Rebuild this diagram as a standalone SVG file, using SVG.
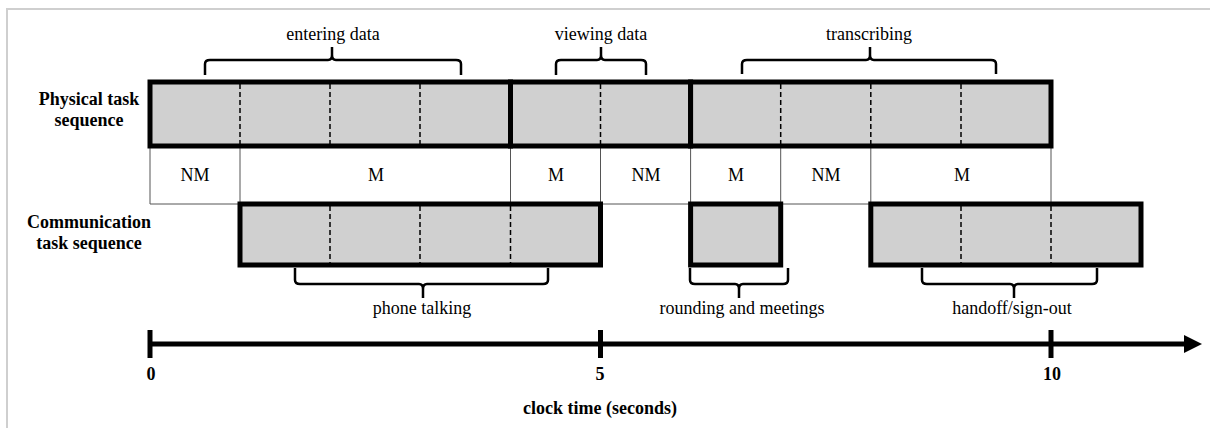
<svg xmlns="http://www.w3.org/2000/svg" width="1210" height="428" viewBox="0 0 1210 428">
<style>
.bar{fill:#d0d0d0;stroke:#000;stroke-width:5}
.dash{stroke:#000;stroke-width:1.5;stroke-dasharray:5,3;fill:none}
.thin{stroke:#555;stroke-width:1;fill:none}
.brace{stroke:#000;stroke-width:2.5;fill:none;stroke-linejoin:round}
.t{font-family:"Liberation Serif","Times New Roman",serif;font-size:18px;fill:#000;text-anchor:middle}
.b{font-weight:bold}
.axis{stroke:#000;stroke-width:5}
</style>
<rect x="0" y="0" width="1210" height="428" fill="#fff"/>
<path d="M7,428 V9 H1210" fill="none" stroke="#cfcfcf" stroke-width="2"/>

<g id="labels-left">
<text class="t b" x="89" y="105">Physical task</text>
<text class="t b" x="89" y="126">sequence</text>
<text class="t b" x="89" y="228">Communication</text>
<text class="t b" x="89" y="249">task sequence</text>
</g>

<g id="mnm-row">
<path class="thin" d="M150,146 V204 H1051 V146 M240,146 V204 M510.5,146 V204 M600.5,146 V204 M690.6,146 V204 M780.7,146 V204 M870.8,146 V204"/>
<text class="t" x="195" y="181">NM</text>
<text class="t" x="376" y="181">M</text>
<text class="t" x="556" y="181">M</text>
<text class="t" x="646" y="181">NM</text>
<text class="t" x="736" y="181">M</text>
<text class="t" x="826" y="181">NM</text>
<text class="t" x="962" y="181">M</text>
</g>

<g id="physical-entering">
<rect class="bar" x="150" y="82" width="360.5" height="64"/>
<path class="dash" d="M240,84 V144 M330,84 V144 M420,84 V144"/>
</g>
<g id="physical-viewing">
<rect class="bar" x="510.5" y="82" width="180.1" height="64"/>
<path class="dash" d="M600.5,84 V144"/>
</g>
<g id="physical-transcribing">
<rect class="bar" x="690.6" y="82" width="360.4" height="64"/>
<path class="dash" d="M780.7,84 V144 M870.8,84 V144 M961,84 V144"/>
</g>

<g id="comm-phone">
<rect class="bar" x="240" y="204" width="360.5" height="61"/>
<path class="dash" d="M330,206 V263 M420,206 V263 M510.5,206 V263"/>
</g>
<g id="comm-rounding">
<rect class="bar" x="690.6" y="204" width="90.1" height="61"/>
</g>
<g id="comm-handoff">
<rect class="bar" x="870.8" y="204" width="270.2" height="61"/>
<path class="dash" d="M961,206 V263 M1051,206 V263"/>
</g>

<g id="brace-entering">
<path class="brace" d="M205,75 V64 Q205,60 210,60 H328 Q332,60 332,55 V47 M332,55 Q332,60 336,60 H456 Q461,60 461,64 V75"/>
<text class="t" x="333" y="40">entering data</text>
</g>
<g id="brace-viewing">
<path class="brace" d="M556,75 V64 Q556,60 561,60 H597 Q601,60 601,55 V47 M601,55 Q601,60 605,60 H641 Q646,60 646,64 V75"/>
<text class="t" x="601" y="40">viewing data</text>
</g>
<g id="brace-transcribing">
<path class="brace" d="M742,74 V64 Q742,60 747,60 H866 Q870,60 870,55 V47 M870,55 Q870,60 874,60 H991 Q996,60 996,64 V74"/>
<text class="t" x="869" y="40">transcribing</text>
</g>

<g id="brace-phone">
<path class="brace" d="M295,268 V280 Q295,284 300,284 H419 Q423,284 423,289 V298 M423,289 Q423,284 427,284 H543 Q548,284 548,280 V268"/>
<text class="t" x="422" y="314">phone talking</text>
</g>
<g id="brace-rounding">
<path class="brace" d="M690,268 V280 Q690,284 695,284 H735 Q739,284 739,289 V298 M739,289 Q739,284 743,284 H783 Q788,284 788,280 V268"/>
<text class="t" x="742" y="314">rounding and meetings</text>
</g>
<g id="brace-handoff">
<path class="brace" d="M922,268 V280 Q922,284 927,284 H1010 Q1014,284 1014,289 V298 M1014,289 Q1014,284 1018,284 H1092 Q1097,284 1097,280 V268"/>
<text class="t" x="1012" y="314">handoff/sign-out</text>
</g>

<g id="axis">
<line class="axis" x1="150" y1="344" x2="1186" y2="344"/>
<polygon points="1184,335 1202,344 1184,353" fill="#000"/>
<line class="axis" x1="150" y1="330" x2="150" y2="358"/>
<line class="axis" x1="600.5" y1="330" x2="600.5" y2="358"/>
<line class="axis" x1="1051" y1="330" x2="1051" y2="358"/>
<text class="t b" x="151" y="380">0</text>
<text class="t b" x="600" y="380">5</text>
<text class="t b" x="1052" y="380">10</text>
<text class="t b" x="600" y="414">clock time (seconds)</text>
</g>
</svg>
